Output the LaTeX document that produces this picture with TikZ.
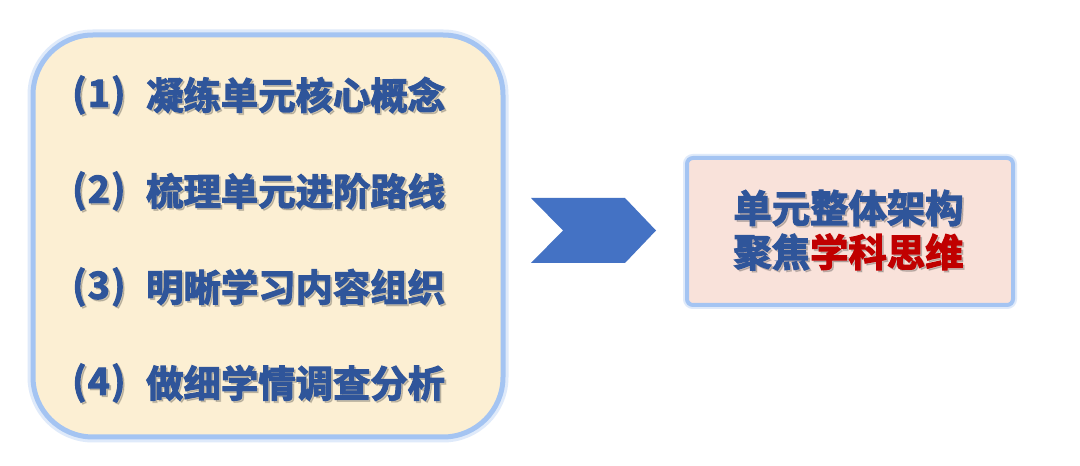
\documentclass[tikz,border=0pt]{standalone}
\usepackage{fontspec}
\newfontfamily\cjkheavy{Noto Sans CJK SC Bold}[FakeBold=3]
\definecolor{txtblue}{HTML}{2F559A}
\definecolor{txtred}{HTML}{C00000}
\definecolor{bordblue}{HTML}{A4C4F2}
\definecolor{leftfill}{HTML}{FCEFD3}
\definecolor{rightfill}{HTML}{F9E2DA}
\definecolor{chevblue}{HTML}{4472C4}
\tikzset{
  plain/.style={inner sep=0pt},
  leftfont/.style={plain, text=txtblue, font=\cjkheavy\fontsize{37.5}{42}\selectfont},
  rightfont/.style={plain, text=txtblue, font=\cjkheavy\fontsize{38.5}{42}\selectfont},
  textshadow/.style={text=black!80, opacity=0.22, xshift=1.8bp, yshift=-1.8bp},
}
\begin{document}
\begin{tikzpicture}[x=1bp,y=-1bp]
\useasboundingbox (0,0) rectangle (1080,466);
\fill[white] (0,0) rectangle (1080,466);
% left box
\draw[bordblue!35, line width=11bp, rounded corners=60bp] (33,35) rectangle (503,437);
\draw[bordblue, line width=5bp, fill=leftfill, rounded corners=60bp] (33,35) rectangle (503,437);
% items
\foreach \y/\n/\t [count=\i] in {95/1/凝练单元核心概念,191/2/梳理单元进阶路线,287/3/明晰学习内容组织,383/4/做细学情调查分析} {
  \node[leftfont, anchor=west, textshadow] at (72,\y) {(\kern1.5bp\n\kern1.5bp)};
  \node[leftfont, anchor=west, textshadow] at (146,\y) {\t};
  \node[leftfont, anchor=west] (num\i) at (72,\y) {(\kern1.5bp\n\kern1.5bp)};
  \node[leftfont, anchor=west] (item\i) at (146,\y) {\t};
}
% chevron
\fill[chevblue] (531,198) -- (625,198) -- (656,230.5) -- (625,263) -- (531,263) -- (563,230.5) -- cycle;
% right box
\draw[bordblue!35, line width=8bp, rounded corners=6bp] (687,158) rectangle (1013,305);
\draw[bordblue, line width=4bp, fill=rightfill, rounded corners=6bp] (687,158) rectangle (1013,305);
\node[rightfont, textshadow] at (848.5,208) {单元整体架构};
\node[rightfont, textshadow] at (848.5,252) {聚焦学科思维};
\node[rightfont] (r1) at (848.5,208) {单元整体架构};
\node[rightfont] (r2) at (848.5,252) {聚焦{\color{txtred}学科思维}};
\end{tikzpicture}
\end{document}
